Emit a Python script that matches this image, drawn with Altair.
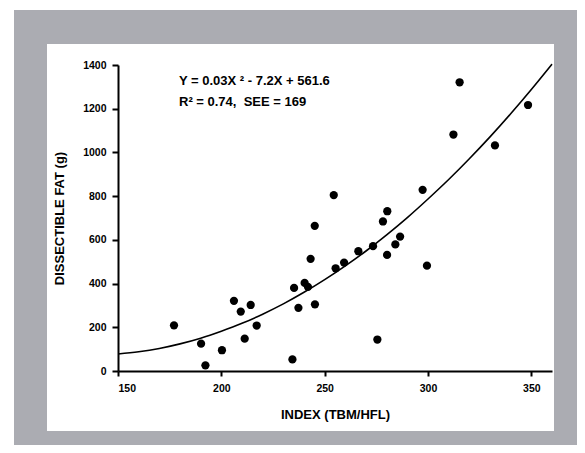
import altair as alt
import pandas as pd

# Scatter data
index_x = [177.1, 190.2, 192.3, 200.3, 206.1, 209.4, 211.3, 214.2, 217.1, 234.4,
           235.2, 237.3, 240.3, 241.9, 243.2, 245.2, 245.3, 254.4, 255.3, 259.4,
           266.3, 273.4, 275.5, 278.2, 280.3, 280.2, 284.2, 286.5, 297.4, 299.5,
           312.3, 315.3, 332.4, 348.4]
fat_y = [209, 125, 26, 95, 321, 272, 148, 302, 208, 53,
         380, 289, 403, 385, 513, 664, 305, 805, 470, 496,
         548, 571, 144, 684, 731, 531, 579, 615, 829, 482,
         1082, 1321, 1032, 1217]

# Fitted curve
curve_x = [150, 160, 170, 180, 190, 200, 210, 220, 230, 240, 250,
           260, 270, 280, 290, 300, 310, 320, 330, 340, 350, 360]
curve_y = [78, 88, 103, 124, 150, 182, 218, 260, 307, 360, 418,
           481, 549, 623, 702, 787, 876, 971, 1071, 1177, 1288, 1404]

x_ticks = [150, 200, 250, 300, 350]
y_ticks = [0, 200, 400, 600, 800, 1000, 1200, 1400]

eq_line1 = "Y = 0.03X \u00b2 - 7.2X + 561.6"
eq_line2 = "R\u00b2 = 0.74,\u00a0\u00a0SEE = 169"

pts = pd.DataFrame({"x": index_x, "y": fat_y})
crv = pd.DataFrame({"x": curve_x, "y": curve_y})
one = pd.DataFrame({"a": [0]})

FONT = "Liberation Sans"

xscale = alt.Scale(domain=[150, 360], nice=False, zero=False)
yscale = alt.Scale(domain=[0, 1400], nice=False)

xaxis = alt.Axis(values=x_ticks, title="INDEX (TBM/HFL)", grid=False, zindex=2,
                 tickSize=5, labelPadding=7, titlePadding=15, format="d")
yaxis = alt.Axis(values=y_ticks, title="DISSECTIBLE FAT (g)", grid=False, zindex=2,
                 tickSize=6, labelPadding=6, titlePadding=16, format="d")

gray = alt.Chart(one).mark_rect(color="#abacb2").encode(
    x=alt.value(-104), x2=alt.value(600), y=alt.value(-55), y2=alt.value(500))
white = alt.Chart(one).mark_rect(color="white").encode(
    x=alt.value(-71), x2=alt.value(436), y=alt.value(-21), y2=alt.value(366))

line = alt.Chart(crv).mark_line(color="black", strokeWidth=1.6, interpolate="monotone").encode(
    x=alt.X("x:Q", scale=xscale, axis=xaxis),
    y=alt.Y("y:Q", scale=yscale, axis=yaxis),
)
points = alt.Chart(pts).mark_circle(color="black", size=68, opacity=1).encode(
    x=alt.X("x:Q", scale=xscale, axis=xaxis),
    y=alt.Y("y:Q", scale=yscale, axis=yaxis),
)

t1 = alt.Chart(one).mark_text(text=eq_line1, font=FONT, fontWeight="bold", fontSize=13,
                              align="left", baseline="middle").encode(
    x=alt.value(61), y=alt.value(16))
t2 = alt.Chart(one).mark_text(text=eq_line2, font=FONT, fontWeight="bold", fontSize=13,
                              align="left", baseline="middle").encode(
    x=alt.value(61), y=alt.value(37))

chart = alt.layer(gray, white, line, points, t1, t2).properties(
    width=434, height=306,
    autosize=alt.AutoSizeParams(type="none"),
    padding={"left": 110, "top": 57, "right": 25, "bottom": 74},
    background="white",
).configure_view(stroke=None).configure_axis(
    domainColor="black", domainWidth=2,
    tickColor="black", tickWidth=2,
    labelFont=FONT, labelFontWeight="bold", labelFontSize=10.5, labelColor="black",
    titleFont=FONT, titleFontWeight="bold", titleFontSize=13, titleColor="black",
)

chart.save("out.html", embed_options={"renderer": "svg", "actions": False})
